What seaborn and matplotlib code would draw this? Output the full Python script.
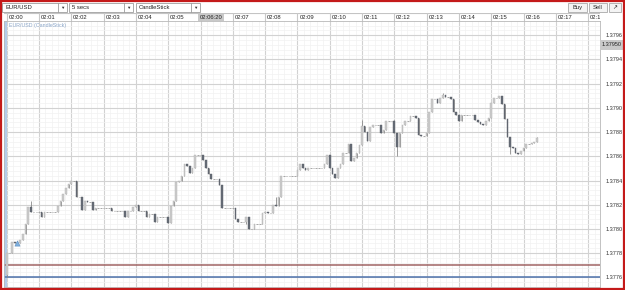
import matplotlib
matplotlib.use("Agg")
import numpy as np
import pandas as pd
import matplotlib.pyplot as plt
import seaborn as sns
from matplotlib.patches import Rectangle

# 5 second EUR/USD candles, 02:00:00 onwards (closes, open = previous close)
first_open = 1.37762
closes = [
    1.37780, 1.37780, 1.37789, 1.37788, 1.37788, 1.37791, 1.37796, 1.37804, 1.37818, 1.37814, 1.37814, 1.37814,
    1.37814, 1.37810, 1.37814, 1.37814, 1.37814, 1.37814, 1.37814, 1.37819, 1.37823, 1.37829, 1.37834, 1.37837,
    1.37840, 1.37840, 1.37826, 1.37826, 1.37816, 1.37823, 1.37822, 1.37822, 1.37816, 1.37817, 1.37817, 1.37817,
    1.37817, 1.37817, 1.37817, 1.37815, 1.37815, 1.37815, 1.37815, 1.37815, 1.37810, 1.37815, 1.37815, 1.37818,
    1.37820, 1.37815, 1.37815, 1.37815, 1.37810, 1.37812, 1.37812, 1.37806, 1.37810, 1.37810, 1.37810, 1.37810,
    1.37805, 1.37819, 1.37823, 1.37839, 1.37840, 1.37844, 1.37854, 1.37852, 1.37846, 1.37850, 1.37861, 1.37861,
    1.37861, 1.37857, 1.37850, 1.37845, 1.37841, 1.37841, 1.37841, 1.37836, 1.37817, 1.37817, 1.37817, 1.37817,
    1.37817, 1.37808, 1.37806, 1.37806, 1.37806, 1.37810, 1.37800, 1.37800, 1.37804, 1.37804, 1.37804, 1.37813,
    1.37814, 1.37813, 1.37813, 1.37820, 1.37819, 1.37826, 1.37844, 1.37844, 1.37844, 1.37844, 1.37844, 1.37844,
    1.37849, 1.37854, 1.37850, 1.37849, 1.37850, 1.37850, 1.37850, 1.37850, 1.37850, 1.37850, 1.37854, 1.37861,
    1.37850, 1.37845, 1.37842, 1.37850, 1.37854, 1.37863, 1.37863, 1.37870, 1.37856, 1.37859, 1.37863, 1.37869,
    1.37885, 1.37880, 1.37873, 1.37884, 1.37886, 1.37886, 1.37886, 1.37879, 1.37882, 1.37889, 1.37889, 1.37889,
    1.37879, 1.37868, 1.37879, 1.37886, 1.37889, 1.37889, 1.37893, 1.37893, 1.37892, 1.37878, 1.37877, 1.37877,
    1.37879, 1.37897, 1.37907, 1.37907, 1.37904, 1.37908, 1.37911, 1.37909, 1.37909, 1.37907, 1.37897, 1.37894,
    1.37889, 1.37894, 1.37894, 1.37894, 1.37894, 1.37894, 1.37890, 1.37888, 1.37887, 1.37886, 1.37889, 1.37892,
    1.37904, 1.37908, 1.37908, 1.37910, 1.37903, 1.37891, 1.37876, 1.37868, 1.37867, 1.37863, 1.37862, 1.37864,
    1.37867, 1.37870, 1.37870, 1.37871, 1.37872, 1.37875,
]
# wick extremes beyond the body (candle index -> price)
high_wicks = {9: 1.37823, 100: 1.37826, 132: 1.37890, 144: 1.37890, 162: 1.37912, 197: 1.37876}
low_wicks = {0: 1.37760, 89: 1.37804, 145: 1.37860, 187: 1.37862}

bar_seconds = 5
minute_labels = ['02:00', '02:01', '02:02', '02:03', '02:04', '02:05', '', '02:07', '02:08',
                 '02:09', '02:10', '02:11', '02:12', '02:13', '02:14', '02:15', '02:16', '02:17', '02:1']
cursor_time_label = '02:06:20'
cursor_time_sec = 380
price_ticks = [1.3776, 1.3778, 1.3780, 1.3782, 1.3784, 1.3786, 1.3788, 1.3790, 1.3792, 1.3794, 1.3796]
cursor_price = 1.37950
order_lines = [1.37770, 1.37760]
order_colors = ['#a06464', '#4f74ad']
trade_marker_sec = 20
trade_marker_price = 1.37788

df = pd.DataFrame({'close': closes})
df['open'] = [first_open] + closes[:-1]
df['t'] = df.index * bar_seconds
df['high'] = df[['open', 'close']].max(axis=1)
df['low'] = df[['open', 'close']].min(axis=1)
for k, v in high_wicks.items():
    df.loc[k, 'high'] = v
for k, v in low_wicks.items():
    df.loc[k, 'low'] = v

sns.set_style("white")
plt.rcParams['font.family'] = ['Liberation Sans', 'DejaVu Sans']

W, H = 625, 290
fig = plt.figure(figsize=(W / 100, H / 100), dpi=100)
fig.patch.set_facecolor('white')

def fx(px):
    return px / W

def fy(py):
    return 1 - py / H

# pixel <-> data scales
sec_per_px = 60 / 32.3
x_left = (4 - 6.7) * sec_per_px
x_right = (600 - 6.7) * sec_per_px
price_per_px = 0.0002 / 24.55
y_bottom = 1.3776 - 6 * price_per_px
y_top = 1.3776 + 260 * price_per_px

ax = fig.add_axes([fx(4), fy(287), fx(600) - fx(4), fy(21) - fy(287)])
ax.set_xlim(x_left, x_right)
ax.set_ylim(y_bottom, y_top)

# grid
ax.set_xticks(np.arange(0, 1081, 60))
ax.set_xticks(np.arange(0, 1100, 12), minor=True)
ax.set_yticks(price_ticks)
ax.set_yticks(np.arange(1.37752, 1.37972, 0.00004), minor=True)
ax.grid(which='major', color='#d2d2d2', lw=0.8)
ax.grid(which='minor', color='#f2f2f2', lw=0.5)
ax.set_axisbelow(True)
ax.tick_params(axis='x', which='both', length=0, labelbottom=False)
ax.yaxis.tick_right()
ax.tick_params(axis='y', which='both', length=0, pad=4, labelsize=4.0, labelcolor='#333333')
ax.set_yticklabels([f'{p:.4f}' for p in price_ticks])
for s in ax.spines.values():
    s.set_color('#b8b8b8')
    s.set_linewidth(0.6)

ax.axvspan(x_left, 0.5, color='#b3cceb', lw=0, zorder=1)

for p, c in zip(order_lines, order_colors):
    ax.axhline(p, color=c, lw=1.1, zorder=2)

# candles
body_w = 3.0
up = df[df['close'] > df['open']]
down = df[df['close'] < df['open']]
flat = df[df['close'] == df['open']]
ax.vlines(df['t'], df['low'], df['high'], color='#8a8a8a', lw=0.6, zorder=3)
ax.bar(up['t'], up['close'] - up['open'], bottom=up['open'], width=body_w,
       color='#cdcdcd', edgecolor='#b0b0b0', lw=0.3, zorder=4)
ax.bar(down['t'], down['open'] - down['close'], bottom=down['close'], width=body_w,
       color='#666c76', edgecolor='#5a5f68', lw=0.3, zorder=4)
ax.hlines(flat['close'], flat['t'] - body_w / 2, flat['t'] + body_w / 2, color='#999999', lw=0.6, zorder=4)

sns.scatterplot(x=[trade_marker_sec], y=[trade_marker_price], marker='^', s=14,
                color='#7fb0de', edgecolor='#5a8cc0', linewidth=0.4, ax=ax, zorder=5)
ax.set_xlabel('')
ax.set_ylabel('')

fig.text(fx(9), fy(25.5), 'EUR/USD (CandleStick)', fontsize=3.8, color='#8ba6c9', va='center', ha='left')

# time header
hx = fig.add_axes([fx(4), fy(21), fx(600) - fx(4), fy(12.5) - fy(21)])
hx.set_xlim(x_left, x_right)
hx.set_ylim(0, 1)
hx.axis('off')
hx.axhline(1, color='#c4c4c4', lw=0.8)
for m, lab in enumerate(minute_labels):
    t = m * 60
    hx.axvline(t, color='#c8c8c8', lw=0.8)
    if lab:
        hx.text(t + 3.5, 0.45, lab, fontsize=4.2, color='#222222', va='center', ha='left', clip_on=True)
hx.add_patch(Rectangle((cursor_time_sec - 24, 0.0), 48, 1.0, color='#c9c9c9', lw=0))
hx.text(cursor_time_sec, 0.45, cursor_time_label, fontsize=4.2, color='#222222', va='center', ha='center')

# cursor price tag on the right axis
fig.add_artist(Rectangle((fx(600), fy(50)), fx(625) - fx(600), fy(40) - fy(50),
                         transform=fig.transFigure, color='#c9c9c9', lw=0))
fig.text(fx(612), fy(45), f'{cursor_price:.5f}', fontsize=4.0, color='#222222', ha='center', va='center')

# toolbar
def dropdown(x0, x1, label):
    fig.add_artist(Rectangle((fx(x0), fy(12)), fx(x1) - fx(x0), fy(3) - fy(12), transform=fig.transFigure,
                             facecolor='white', edgecolor='#9c9c9c', lw=0.6))
    fig.add_artist(plt.Line2D([fx(x1 - 9), fx(x1 - 9)], [fy(12), fy(3)], transform=fig.transFigure,
                              color='#9c9c9c', lw=0.6))
    fig.text(fx(x0 + 3), fy(7.5), label, fontsize=4.2, color='#222222', va='center', ha='left')
    fig.text(fx(x1 - 4.5), fy(7.5), '\u25bc', fontsize=3.2, color='#333333', va='center', ha='center')

dropdown(2, 67, 'EUR/USD')
dropdown(69, 133, '5 secs')
dropdown(136, 200, 'CandleStick')

for x0, x1, lab in [(568, 587, 'Buy'), (589, 607, 'Sell'), (609, 621, '\u2197')]:
    fig.add_artist(Rectangle((fx(x0), fy(12)), fx(x1) - fx(x0), fy(3) - fy(12), transform=fig.transFigure,
                             facecolor='#f4f4f4', edgecolor='#a8a8a8', lw=0.6))
    fig.text(fx((x0 + x1) / 2), fy(7.5), lab, fontsize=4.2, color='#222222', va='center', ha='center')

# red window frame
fig.add_artist(Rectangle((0.0015, 0.003), 0.997, 0.994, transform=fig.transFigure,
                         fill=False, edgecolor='#c41a1a', lw=1.6))

fig.savefig('out.png', dpi=100)
